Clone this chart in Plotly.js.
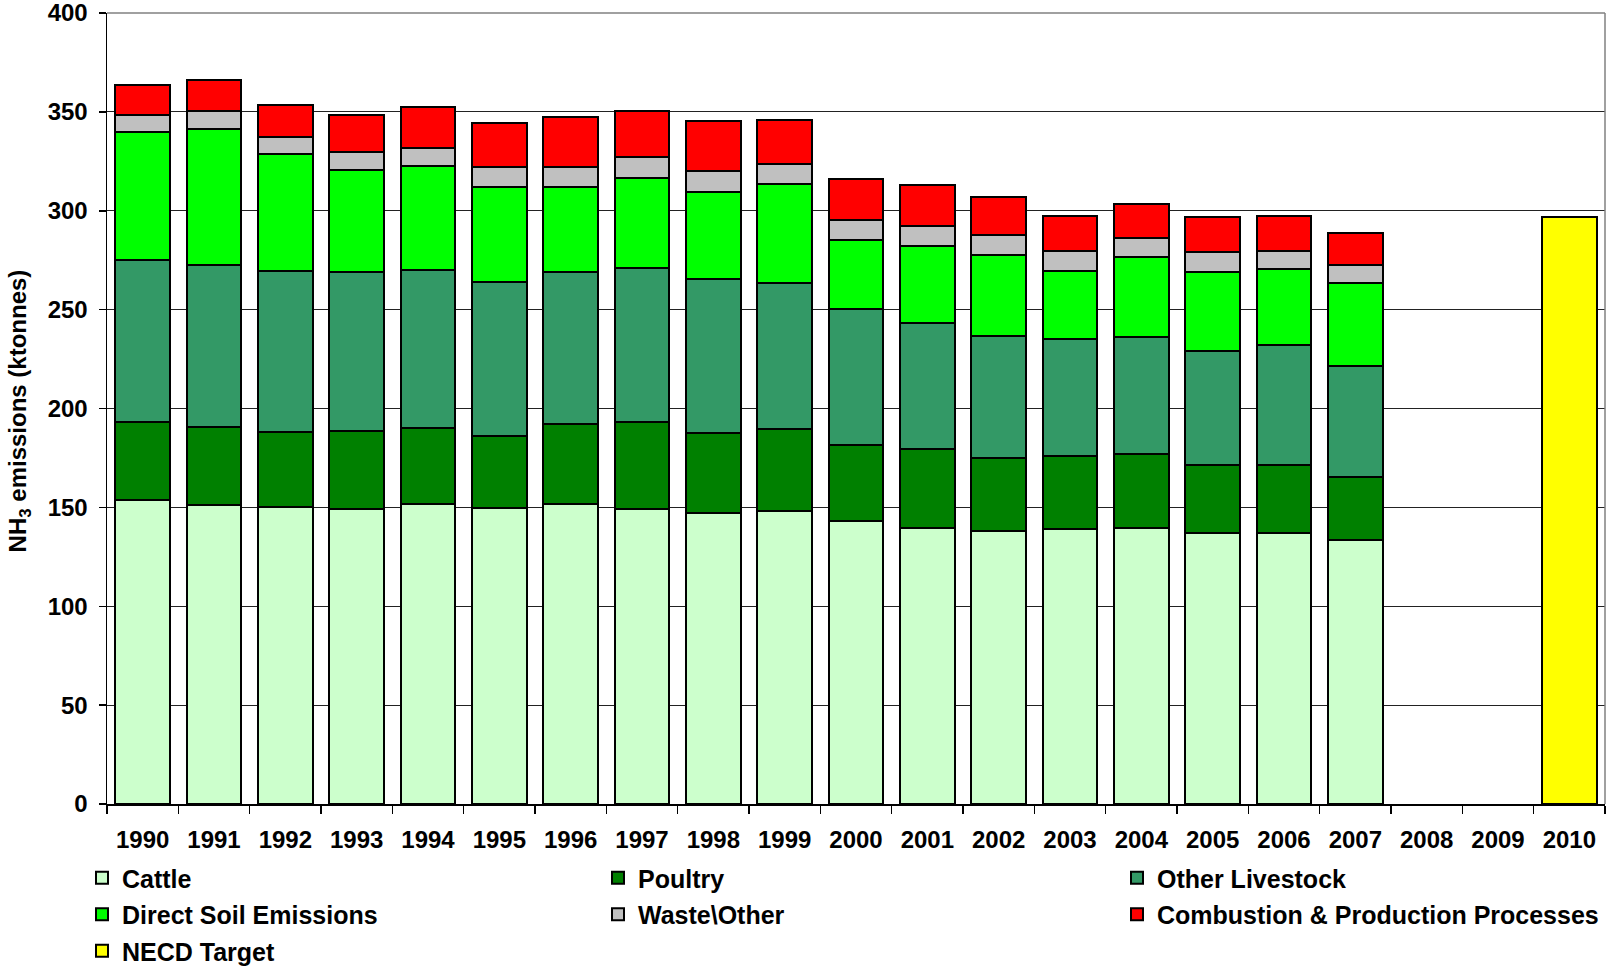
<!DOCTYPE html>
<html>
<head>
<meta charset="utf-8">
<script src="https://cdn.plot.ly/plotly-3.0.1.min.js"></script>
<style>
  html, body { margin: 0; padding: 0; background: #ffffff; }
  #chart { width: 1606px; height: 970px; }
</style>
</head>
<body>
<div id="chart"></div>
<script>
// ---- Data (ktonnes NH3) ----
var years = ['1990','1991','1992','1993','1994','1995','1996','1997','1998','1999',
             '2000','2001','2002','2003','2004','2005','2006','2007','2008','2009','2010'];

var cattle      = [153.5, 151.0, 150.2, 149.3, 151.9, 149.7, 151.9, 149.0, 147.3, 148.1,
                   143.1, 139.4, 138.0, 139.0, 139.4, 137.0, 137.0, 133.7, null, null, null];
var poultry     = [39.6, 39.6, 38.0, 39.2, 38.0, 36.5, 40.5, 44.3, 40.2, 41.5,
                   38.6, 40.1, 37.1, 36.8, 37.4, 34.6, 34.2, 31.8, null, null, null];
var otherLivestock = [82.0, 82.0, 81.3, 80.4, 80.3, 77.8, 76.5, 77.8, 78.0, 73.7,
                   68.6, 63.6, 61.6, 59.4, 59.2, 57.7, 61.0, 55.9, null, null, null];
var directSoil  = [64.6, 68.6, 59.4, 51.8, 52.2, 47.9, 43.0, 45.6, 44.1, 50.2,
                   34.9, 39.2, 40.9, 34.1, 40.4, 39.9, 38.5, 42.2, null, null, null];
var wasteOther  = [8.8, 9.1, 8.5, 9.1, 9.2, 10.3, 10.0, 10.3, 10.3, 10.1,
                   10.1, 9.8, 10.1, 10.1, 9.8, 9.8, 9.1, 9.1, null, null, null];
var combustion  = [15.3, 15.7, 16.3, 18.7, 20.9, 22.1, 25.4, 23.3, 25.6, 22.2,
                   20.7, 20.9, 19.5, 18.1, 17.2, 18.0, 17.3, 16.3, null, null, null];
var necdTarget  = [null, null, null, null, null, null, null, null, null, null,
                   null, null, null, null, null, null, null, null, null, null, 297];

var seriesNames = ['Cattle', 'Poultry', 'Other Livestock', 'Direct Soil Emissions',
                   'Waste\\Other', 'Combustion & Production Processes', 'NECD Target'];
var seriesValues = [cattle, poultry, otherLivestock, directSoil, wasteOther, combustion, necdTarget];
var seriesColors = ['#CCFFCC', '#008000', '#339966', '#00FF00', '#C0C0C0', '#FF0000', '#FFFF00'];
// legend column each series sits in (3 columns, filled row by row)
var legendColumn = ['legend', 'legend2', 'legend3', 'legend', 'legend2', 'legend3', 'legend'];

var yTitle = 'NH<sub>3</sub> emissions (ktonnes)';

var FONT = 'Liberation Sans, Arial, Helvetica, sans-serif';

var traces = seriesNames.map(function (name, i) {
  return {
    type: 'bar',
    name: name,
    x: years,
    y: seriesValues[i],
    legend: legendColumn[i],
    legendgroup: 'g' + i,
    marker: { color: seriesColors[i], line: { color: '#000000', width: 2 } },
    hoverinfo: 'x+y+name'
  };
});

function legendAt(xpx) {
  return {
    orientation: 'v',
    traceorder: 'grouped',
    tracegroupgap: 1,
    xref: 'container',
    x: xpx / 1606, xanchor: 'left',
    yref: 'container',
    y: (970 - 855) / 970, yanchor: 'top',
    font: { family: FONT, size: 25, color: '#000000', weight: 'bold' },
    bgcolor: 'rgba(0,0,0,0)',
    borderwidth: 0
  };
}

var layout = {
  width: 1606,
  height: 970,
  paper_bgcolor: '#ffffff',
  plot_bgcolor: '#ffffff',
  margin: { l: 107, r: 1, t: 13, b: 166, pad: 0, autoexpand: false },
  barmode: 'stack',
  bargap: 0.23,
  font: { family: FONT, size: 24, color: '#000000', weight: 'bold' },
  showlegend: true,
  legend: legendAt(82),
  legend2: legendAt(598),
  legend3: legendAt(1117),
  xaxis: {
    type: 'category',
    categoryorder: 'array',
    categoryarray: years,
    automargin: false,
    showline: true,
    linecolor: '#000000',
    linewidth: 1.5,
    ticks: 'outside',
    tickson: 'boundaries',
    ticklen: 8,
    tickwidth: 1.5,
    tickcolor: '#000000',
    ticklabelstandoff: 14,
    tickfont: { family: FONT, size: 24, color: '#000000', weight: 'bold' },
    showgrid: false,
    fixedrange: true
  },
  yaxis: {
    range: [0, 400],
    dtick: 50,
    tick0: 0,
    automargin: false,
    showline: true,
    linecolor: '#000000',
    linewidth: 1.5,
    ticks: 'outside',
    ticklen: 7,
    tickwidth: 1.5,
    tickcolor: '#000000',
    ticklabelstandoff: 6,
    ticklabeloverflow: 'allow',
    tickfont: { family: FONT, size: 24, color: '#000000', weight: 'bold' },
    showgrid: true,
    gridcolor: '#222222',
    gridwidth: 1,
    zeroline: false,
    fixedrange: true
  },
  annotations: [
    { text: yTitle, textangle: -90, showarrow: false,
      xref: 'paper', yref: 'paper', x: -0.0584, y: 0.497,
      xanchor: 'center', yanchor: 'middle',
      font: { family: FONT, size: 24, color: '#000000', weight: 'bold' } }
  ],
  shapes: [
    { type: 'line', xref: 'paper', yref: 'paper', x0: 1, x1: 1, y0: 0, y1: 1,
      line: { color: '#808080', width: 1.5 } },
    { type: 'line', xref: 'paper', yref: 'paper', x0: 0, x1: 1, y0: 1, y1: 1,
      line: { color: '#808080', width: 1.5 } }
  ]
};

Plotly.newPlot('chart', traces, layout, { displayModeBar: false, staticPlot: true });
</script>
</body>
</html>
